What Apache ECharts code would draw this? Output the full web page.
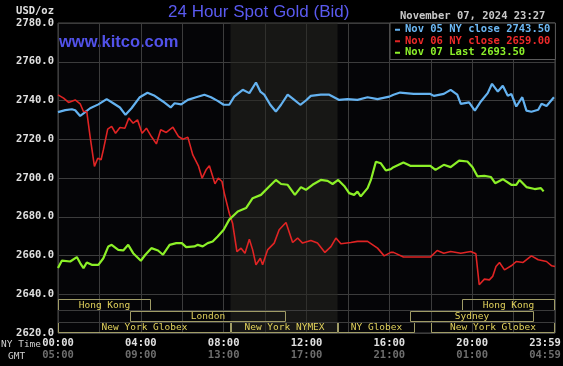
<!DOCTYPE html>
<html><head><meta charset="utf-8">
<script src="https://cdn.jsdelivr.net/npm/echarts@6/dist/echarts.min.js"></script>
<style>html,body{margin:0;padding:0;background:#000;}#c{width:563px;height:366px;}</style>
</head><body><div id="c"></div>
<script>
// ---- data (hours since 00:00 NY time, USD/oz) ----
const nov05Name = 'Nov 05 NY close 2743.50';
const nov05Hours = [0, 0.35, 0.67, 0.83, 1.07, 1.31, 1.55, 1.95, 2.35, 2.67, 2.99, 3.26, 3.55, 3.95, 4.32, 4.67, 5.07, 5.44, 5.63, 5.95, 6.27, 6.67, 7.07, 7.39, 7.71, 8.0,
  8.27, 8.51, 8.92, 9.24, 9.56, 9.77, 9.96, 10.25, 10.52, 10.77, 11.09, 11.41, 11.70, 11.97, 12.21, 12.69, 13.10, 13.58, 13.98, 14.46, 14.95, 15.43, 16.0,
  16.2, 16.52, 17.17, 17.98, 18.15, 18.63, 18.96, 19.28, 19.45, 19.85, 20.13, 20.42, 20.75, 20.96, 21.24, 21.48, 21.72, 21.89, 22.13, 22.42, 22.62, 22.86, 23.19, 23.35, 23.59, 23.95];
const nov05Values = [2734, 2735, 2735.5, 2735, 2732, 2734, 2736, 2738, 2740.7, 2738.6, 2736.4, 2732.6, 2736, 2741.7, 2744, 2742.4, 2739.5, 2736.4, 2738.6, 2738, 2740.3, 2741.7, 2743, 2741.7, 2739.8, 2737.8,
  2737.8, 2742, 2745.5, 2743.8, 2749.3, 2744.6, 2743, 2737.8, 2734.3, 2737.8, 2743, 2740.3, 2737.8, 2740, 2742.4, 2743, 2743, 2740.3, 2740.7, 2740.3, 2741.7, 2740.7, 2742,
  2743, 2744.1, 2743.4, 2743.4, 2742.4, 2743.4, 2745.5, 2743, 2738.3, 2739, 2734.8, 2739.5, 2743.8, 2748.6, 2744.6, 2747.6, 2742.4, 2743.4, 2736.9, 2741.7, 2734.8, 2734.2, 2735.2, 2738.3, 2737.2, 2741.7];

const nov06Name = 'Nov 06 NY close 2659.00';
const nov06Hours = [0, 0.27, 0.51, 0.83, 1.07, 1.23, 1.39, 1.55, 1.76, 1.92, 2.08, 2.19, 2.4, 2.59, 2.78, 2.99, 3.23, 3.42, 3.63, 3.84, 4.06, 4.27, 4.51, 4.75, 4.96, 5.23, 5.55, 5.82, 6.03, 6.27, 6.51, 6.78, 6.96, 7.15, 7.31, 7.58, 7.74, 7.92,
  8.03, 8.27, 8.43, 8.64, 8.84, 9.03, 9.24, 9.40, 9.56, 9.77, 9.88, 10.12, 10.44, 10.68, 11.01, 11.33, 11.57, 11.81, 12.21, 12.53, 12.89, 13.18, 13.42, 13.66, 14.14, 14.46, 14.95, 15.43, 15.75, 16.07,
  16.2, 16.68, 17.98, 18.31, 18.63, 18.96, 19.45, 19.93, 20.18, 20.34, 20.59, 20.83, 20.99, 21.15, 21.32, 21.56, 21.89, 22.13, 22.46, 22.86, 23.19, 23.59, 23.84, 24.0];
const nov06Values = [2742.9, 2741.2, 2739, 2740.3, 2738.3, 2734.3, 2734.3, 2721.4, 2706, 2710.2, 2709.4, 2714.5, 2725.2, 2726.6, 2723.1, 2726.1, 2725.7, 2730.9, 2728.3, 2730, 2723.1, 2725.7, 2721.4, 2717.6, 2724.9, 2723.5, 2726.2, 2721.4, 2720, 2721.1, 2711.9, 2706.3, 2699.9, 2704.2, 2706.3, 2697, 2699.9, 2698.2,
  2692.2, 2681.8, 2676.7, 2662, 2663.8, 2661.2, 2668.4, 2662.9, 2655.2, 2658.6, 2655.2, 2662.9, 2666.4, 2673.3, 2677, 2666.7, 2669, 2666.4, 2667.8, 2666.4, 2661.6, 2664.6, 2669, 2666.1, 2666.7, 2667.3, 2667.3, 2663.8, 2659.8, 2661.6,
  2661.6, 2659.2, 2659.2, 2662.6, 2661.2, 2662.1, 2661.2, 2662.1, 2660.9, 2644.9, 2647.8, 2647.4, 2649.2, 2654.3, 2656.4, 2652.6, 2654.7, 2656.9, 2656.4, 2659.8, 2657.8, 2656.9, 2654.7, 2654.3];

const nov07Name = 'Nov 07 Last 2693.50';
const nov07Hours = [0, 0.19, 0.59, 0.91, 1.07, 1.23, 1.39, 1.63, 1.95, 2.19, 2.43, 2.59, 2.91, 3.15, 3.39, 3.63, 4.0, 4.22, 4.51, 4.83, 5.07, 5.39, 5.71, 5.98, 6.19, 6.59, 6.75, 6.99, 7.23, 7.47, 7.71, 8.0,
  8.27, 8.68, 9.08, 9.40, 9.80, 10.2, 10.52, 10.77, 11.09, 11.44, 11.73, 11.97, 12.29, 12.69, 13.02, 13.26, 13.53, 13.82, 14.06, 14.3, 14.46, 14.62, 14.95, 15.11, 15.35, 15.59, 15.83, 16.07,
  16.2, 16.68, 17.01, 17.98, 18.23, 18.63, 18.96, 19.37, 19.77, 20.02, 20.26, 20.59, 20.91, 21.11, 21.48, 21.89, 22.13, 22.29, 22.62, 23.02, 23.32, 23.45];
const nov07Values = [2653.5, 2657.4, 2656.9, 2659.2, 2656.1, 2653.5, 2656.4, 2655.2, 2655.2, 2658.6, 2664.7, 2665.5, 2662.9, 2662.6, 2665.5, 2661.2, 2657.3, 2660.4, 2663.8, 2662.6, 2660.4, 2665.5, 2666.4, 2666.4, 2664.3, 2664.7, 2665.5, 2664.7, 2666.4, 2667.2, 2669.8, 2673.3,
  2678.5, 2682.7, 2684.5, 2689.6, 2691.3, 2695.6, 2699, 2696.9, 2696.5, 2691.3, 2695.3, 2693.9, 2696.5, 2699, 2698.5, 2696.9, 2699, 2695.9, 2692.2, 2691.3, 2693, 2690.5, 2694.8, 2699, 2708.4, 2707.6, 2703.9, 2704.6,
  2705.6, 2708, 2706.3, 2706.3, 2704.2, 2706.8, 2705.6, 2709, 2708.5, 2705.6, 2700.8, 2701.1, 2700.5, 2697.3, 2699.4, 2696.5, 2696.5, 2699, 2695.3, 2694.3, 2694.8, 2693.1];

// trading sessions (hours) and row (0 = top)
const sessionNames = ['Hong Kong', 'Hong Kong', 'London', 'Sydney', 'New York Globex', 'New York NYMEX', 'NY Globex', 'New York Globex'];
const sessionStart = [0, 19.5, 3.5, 17, 0, 8.33, 13.5, 18];
const sessionEnd   = [4.5, 24, 11, 23, 8.33, 13.5, 17.25, 24];
const sessionRow   = [0, 0, 1, 1, 2, 2, 2, 2];
const nymexStart = 8.33, nymexEnd = 13.5;

// axis tick labels
const tickHours = [0, 4, 8, 12, 16, 20, 24];
const nyTimeLabels = ['00:00', '04:00', '08:00', '12:00', '16:00', '20:00', '23:59'];
const gmtLabels = ['05:00', '09:00', '13:00', '17:00', '21:00', '01:00', '04:59'];
const yMin = 2620, yMax = 2780, yStep = 20;

const titleText = '24 Hour Spot Gold (Bid)';
const siteText = 'www.kitco.com';
const stampText = 'November 07, 2024 23:27';
const unitText = 'USD/oz';

// ---- chart ----
const MONO = 'DejaVu Sans Mono';
const COL_BLUE = '#64b2f0', COL_RED = '#e02424', COL_GREEN = '#8cf028';
const ROW_EDGES = [2637.6, 2631.5, 2625.5, 2620];

function pairs(h, v) { return h.map((x, i) => [x, v[i]]); }

const chart = echarts.init(document.getElementById('c'), null, {renderer: 'canvas'});
chart.setOption({
  backgroundColor: '#000',
  animation: false,
  title: {
    text: titleText, left: 168, top: 0, padding: [4, 0, 0, 0],
    textStyle: {color: '#5a5af0', fontFamily: 'Liberation Sans', fontSize: 17, fontWeight: 'normal'}
  },
  graphic: [
    {type: 'text', left: 59, top: 34, style: {text: siteText, fill: '#5252ea', font: 'bold 16.5px Liberation Sans'}},
    {type: 'text', left: 400, top: 11, style: {text: stampText, fill: '#c8c8c8', font: 'bold 10.5px ' + MONO}},
    {type: 'text', left: 1, top: 340, style: {text: 'NY Time', fill: '#d0d0d0', font: '9.5px ' + MONO}},
    {type: 'text', left: 8, top: 352, style: {text: 'GMT', fill: '#d0d0d0', font: '9.5px ' + MONO}}
  ],
  legend: {
    left: 390, top: 23, orient: 'vertical',
    backgroundColor: '#000', borderColor: '#5a5a5a', borderWidth: 1,
    padding: [1, 5, 1, 5], itemGap: 0, itemWidth: 5, itemHeight: 2, icon: 'rect',
    selectedMode: false,
    textStyle: {fontFamily: MONO, fontSize: 10.5, fontWeight: 'bold', lineHeight: 11.5},
    data: [
      {name: nov05Name, textStyle: {color: '#6cb8f4'}},
      {name: nov06Name, textStyle: {color: '#ee2a2a'}},
      {name: nov07Name, textStyle: {color: '#8cf02a'}}
    ]
  },
  grid: {left: 58, right: 8, top: 23, bottom: 33, outerBoundsMode: 'none', containLabel: false,
    show: true, backgroundColor: '#050507', borderColor: '#4a4a4a', borderWidth: 1},
  xAxis: {
    type: 'value', min: 0, max: 24, interval: 2,
    axisLine: {show: false}, axisTick: {show: false},
    splitLine: {show: true, lineStyle: {color: '#3c3c3c', width: 1}},
    axisLabel: {
      margin: 4, hideOverlap: false,
      formatter: function (v) {
        const i = tickHours.indexOf(v);
        if (i < 0) return '';
        if (i === tickHours.length - 1) return '{c|' + nyTimeLabels[i] + '}\n{d|' + gmtLabels[i] + '}';
        return '{a|' + nyTimeLabels[i] + '}\n{b|' + gmtLabels[i] + '}';
      },
      rich: {
        a: {fontFamily: MONO, fontSize: 10.5, fontWeight: 'bold', color: '#e0e0e0', lineHeight: 12.5},
        b: {fontFamily: MONO, fontSize: 10.5, fontWeight: 'bold', color: '#6e6e6e', lineHeight: 12.5},
        c: {fontFamily: MONO, fontSize: 10.5, fontWeight: 'bold', color: '#e0e0e0', lineHeight: 12.5, padding: [0, 20, 0, 0]},
        d: {fontFamily: MONO, fontSize: 10.5, fontWeight: 'bold', color: '#6e6e6e', lineHeight: 12.5, padding: [0, 20, 0, 0]}
      }
    }
  },
  yAxis: {
    type: 'value', min: yMin, max: yMax, interval: yStep,
    name: unitText, nameLocation: 'end', nameGap: 6,
    nameTextStyle: {fontFamily: MONO, fontSize: 10.5, fontWeight: 'bold', color: '#e0e0e0', align: 'right', padding: [0, 4, 0, 0]},
    axisLine: {show: false}, axisTick: {show: false},
    splitLine: {show: true, lineStyle: {color: '#3c3c3c', width: 1}},
    axisLabel: {margin: 4, fontFamily: MONO, fontSize: 10.5, fontWeight: 'bold', color: '#e0e0e0',
      formatter: v => v.toFixed(1)}
  },
  series: [
    {
      type: 'custom', name: 'sessions', silent: true, z: 1,
      data: sessionNames.map((n, i) => ({name: n, value: [sessionStart[i], sessionEnd[i], sessionRow[i]]})),
      renderItem: function (params, api) {
        const s = api.value(0), e = api.value(1), r = api.value(2);
        const p0 = api.coord([s, ROW_EDGES[r]]);
        const p1 = api.coord([e, ROW_EDGES[r + 1]]);
        const x0 = Math.round(p0[0]) + 0.5, x1 = Math.round(p1[0]) - 0.5;
        const y0 = Math.round(p0[1]) + 0.5, y1 = Math.round(p1[1]) - 0.5;
        return {
          type: 'group',
          children: [
            {type: 'rect', shape: {x: x0, y: y0, width: x1 - x0, height: y1 - y0},
              style: {fill: null, stroke: '#a09c66', lineWidth: 1}},
            {type: 'text', style: {text: sessionNames[params.dataIndex], x: (x0 + x1) / 2, y: (y0 + y1) / 2 + 0.5,
              align: 'center', verticalAlign: 'middle', fill: '#e2d25c', font: '9.5px ' + MONO}}
          ]
        };
      },
      markArea: {
        silent: true,
        itemStyle: {color: 'rgba(38,38,32,0.55)'},
        data: [[{xAxis: nymexStart}, {xAxis: nymexEnd}]]
      },
      markLine: {
        silent: true, symbol: 'none', label: {show: false},
        lineStyle: {color: '#3c3c3c', type: 'solid', width: 1},
        data: [{yAxis: ROW_EDGES[1]}, {yAxis: ROW_EDGES[2]}]
      }
    },
    {type: 'line', name: nov05Name, data: pairs(nov05Hours, nov05Values), showSymbol: false, color: COL_BLUE,
      lineStyle: {width: 2.2, color: COL_BLUE}, z: 3},
    {type: 'line', name: nov06Name, data: pairs(nov06Hours, nov06Values), showSymbol: false, color: COL_RED,
      lineStyle: {width: 1.6, color: COL_RED}, z: 3},
    {type: 'line', name: nov07Name, data: pairs(nov07Hours, nov07Values), showSymbol: false, color: COL_GREEN,
      lineStyle: {width: 2.2, color: COL_GREEN}, z: 3}
  ]
});
</script>
</body></html>
